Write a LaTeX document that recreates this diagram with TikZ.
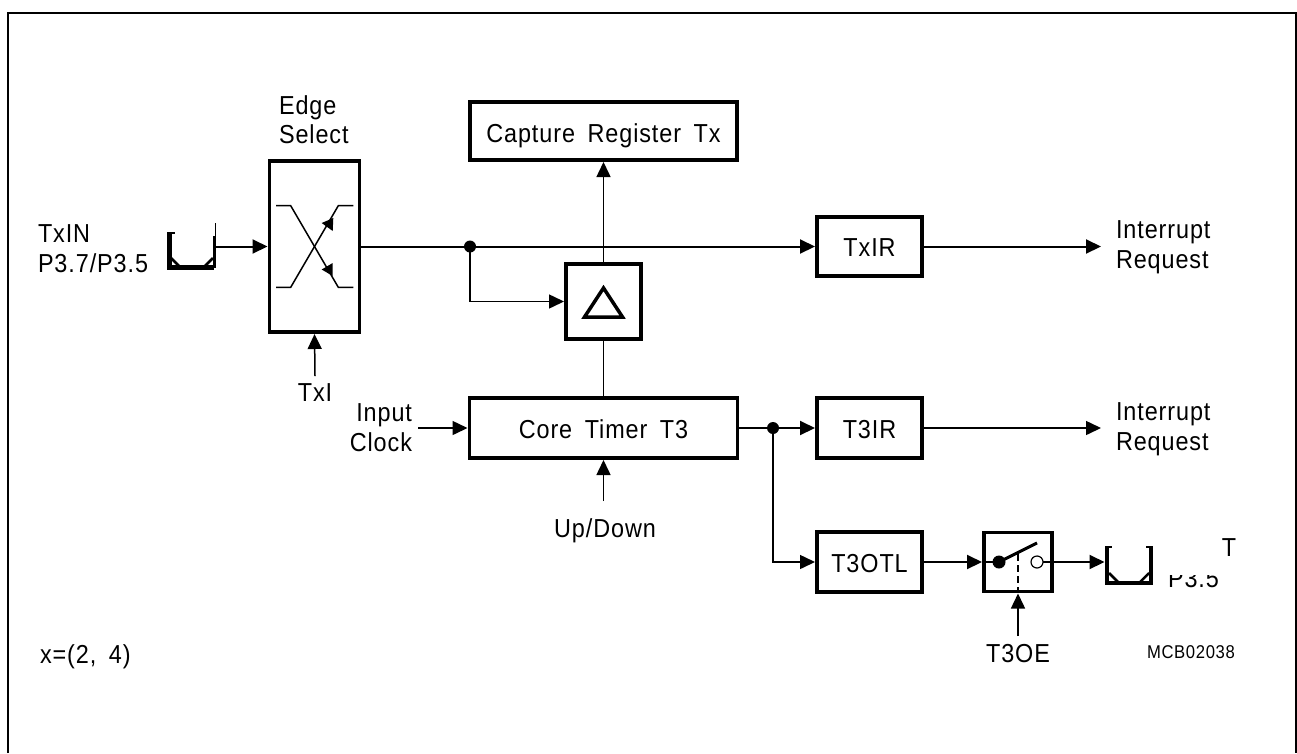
\documentclass[tikz,border=0pt]{standalone}
\usepackage{fontspec}
\setmainfont{Liberation Sans}[FakeStretch=0.9,WordSpace=1.7,LetterSpace=3.5]
\usetikzlibrary{arrows.meta,calc}
\tikzset{
  blk/.style={draw,line width=3.5pt,line join=miter,inner sep=0pt,outer sep=0pt},
  lbl/.style={inner sep=0pt,outer sep=0pt,font=\fontsize{26}{29}\selectfont,anchor=base},
  lbll/.style={lbl,anchor=base west},
  lblr/.style={lbl,anchor=base east},
  sm/.style={inner sep=0pt,outer sep=0pt,font=\fontsize{18.5}{22}\selectfont,anchor=base west},
  wire/.style={line width=2pt},
  thin wire/.style={line width=1.5pt},
  arr/.style={-{Triangle[length=15pt,width=14pt]},shorten >=2pt},
  padn/.style={inner sep=0pt,outer sep=0pt,minimum width=46pt,minimum height=40pt},
  dot/.style={circle,fill=black,inner sep=0pt,minimum size=12pt,outer sep=0pt}
}
\begin{document}
\begin{tikzpicture}[x=1pt,y=-1pt]
\useasboundingbox (0,0) rectangle (1297,753);
\fill[white] (0,0) rectangle (1297,753);
% frame (no lower edge)
\draw[line width=2pt] (8,753) -- (8,12.5) -- (1296,12.5) -- (1296,753);

% blocks
\node[blk,minimum width=90pt,minimum height=171pt] (edge) at (314.5,246.5) {};
\node[blk,minimum width=267pt,minimum height=58pt] (cap) at (603.5,131) {};
\node[blk,minimum width=75pt,minimum height=75pt] (delta) at (603.5,301.5) {};
\node[blk,minimum width=268pt,minimum height=60pt] (core) at (603.5,428) {};
\node[blk,minimum width=105pt,minimum height=59pt] (txir) at (869.5,246.5) {};
\node[blk,minimum width=105pt,minimum height=60pt] (t3ir) at (869.5,428) {};
\node[blk,minimum width=105pt,minimum height=60pt] (t3otl) at (869.5,562) {};
\node[blk,minimum width=68pt,minimum height=59pt] (sw) at (1018,562) {};
\node[padn] (padl) at (192.5,246.5) {};
\node[padn] (padr) at (1129.5,562) {};

% block labels
\node[lbl] (capt) at (603.5,142) {Capture Register Tx};
\node[lbl] (coret) at (603.5,438) {Core Timer T3};
\node[lbl] (txirt) at (869.5,256) {TxIR};
\node[lbl] (t3irt) at (869.5,438) {T3IR};
\node[lbl] (t3otlt) at (869.5,572) {T3OTL};

% free labels
\node[lbll] (e1) at (279,114) {Edge};
\node[lbll] (e2) at (279,143) {Select};
\node[lbll] (in1) at (38,242) {TxIN};
\node[lbll] (in2) at (38,272) {P3.7/P3.5};
\node[lbl] (txit) at (315,401) {TxI};
\node[lblr] (ic1) at (412,421) {Input};
\node[lblr] (ic2) at (412,451) {Clock};
\node[lbl] (updn) at (605,537) {Up/Down};
\node[lbll] (ir1) at (1116,238) {Interrupt};
\node[lbll] (ir2) at (1116,268) {Request};
\node[lbll] (ir3) at (1116,420) {Interrupt};
\node[lbll] (ir4) at (1116,450) {Request};
\node[lbl] (oet) at (1018,662) {T3OE};
\node[lbll] (xeq) at (40,663) {x=(2, 4)};
\node[sm] (mcb) at (1147,658) {MCB02038};
\node[lbl] (tcut) at (1229,556) {T};
\begin{scope}
  \clip (1160,575) rectangle (1235,592);
  \node[lbll] (pcut) at (1168,587) {P3.5};
\end{scope}

% free ends and junctions
\coordinate (j1) at (470,246.5);
\coordinate (j2) at (773,428);
\coordinate (txis) at (315,376);
\coordinate (ics) at (418,428);
\coordinate (updns) at (603.5,501);
\coordinate (oes) at (1018,636);
\coordinate (ir1e) at (1103,246.5);
\coordinate (ir2e) at (1103,428);

% connectors
\draw[wire,arr] (padl.east) -- (edge.west);
\draw[wire,arr] (edge.east) -- (txir.west);
\draw[wire,arr] (txir.east) -- (ir1e);
\draw[thin wire,arr] (j1) |- (delta.west);
\draw[thin wire,arr] (delta.north) -- (cap.south);
\draw[thin wire] (core.north) -- (delta.south);
\draw[thin wire,arr] (txis) -- (edge.south);
\draw[thin wire,arr] (ics) -- (core.west);
\draw[thin wire,arr] (updns) -- (core.south);
\draw[wire,arr] (core.east) -- (t3ir.west);
\draw[thin wire,arr] (t3ir.east) -- (ir2e);
\draw[thin wire,arr] (j2) |- (t3otl.west);
\draw[wire,arr] (t3otl.east) -- (sw.west);
\draw[wire,arr] (sw.east) -- (padr.west);
\draw[thin wire,arr] (oes) -- (sw.south);
\node[dot] (d1) at (j1) {};
\node[dot] (d2) at (j2) {};

% edge-select symbol
\draw[thin wire,line join=miter] (276,205.7) -- (290.7,205.7) -- (338.3,287.3) -- (353.3,287.3);
\draw[thin wire,line join=miter] (276,287.3) -- (290.7,287.3) -- (338.3,205.7) -- (353.3,205.7);
\fill (321.7,223) -- (333.3,218) -- (332.7,231) -- cycle;
\fill (321.7,269.5) -- (332.7,263) -- (332.7,276) -- cycle;

% delta symbol
\draw[line width=3.5pt,line join=miter] (603.5,288) -- (584.5,317) -- (622.5,317) -- cycle;

% input pad
\draw[line width=4.5pt,line join=miter] (169.5,232) -- (169.5,267.5) -- (214,267.5);
\draw[line width=3pt] (214,268) -- (214,236);
\draw[line width=1.5pt] (215.5,236) -- (215.5,223);
\draw[line width=2.5pt] (171,258) -- (180,267);
\draw[line width=2.5pt] (213,258) -- (204,267);
\fill (170,232) rectangle (175,234);

% output pad
\draw[line width=4.5pt,line join=miter] (1107,546) -- (1107,583) -- (1151,583) -- (1151,546);
\draw[line width=2.5pt] (1109,573) -- (1118,582);
\draw[line width=2.5pt] (1149,573) -- (1140,582);
\fill (1108,546) rectangle (1112,548);
\fill (1146,546) rectangle (1150,548);

% switch symbol
\coordinate (swa) at (999,562);
\coordinate (swb) at (1037,562);
\draw[wire] (sw.west) -- (swa);
\draw[wire] (swb) -- (sw.east);
\draw[line width=3pt] (swa) -- (1037,543);
\draw[thin wire,dashed,dash pattern=on 7pt off 4pt] (1018,554) -- (sw.south);
\node[dot,minimum size=13pt] (swc) at (swa) {};
\node[circle,draw,fill=white,line width=1.2pt,inner sep=0pt,minimum size=12pt] (swo) at (swb) {};
\end{tikzpicture}
\end{document}
